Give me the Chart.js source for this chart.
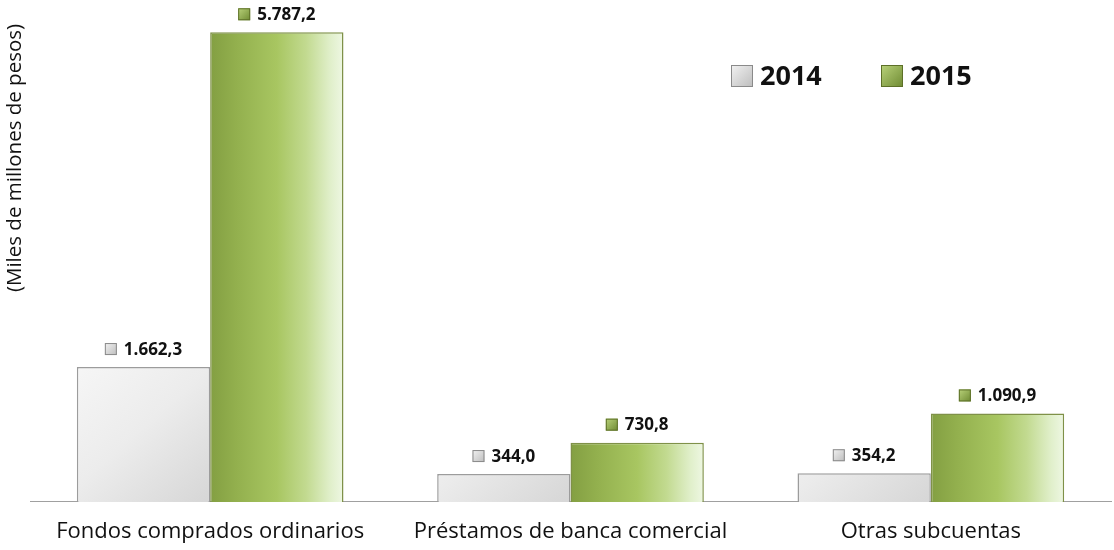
<!DOCTYPE html>
<html><head><meta charset="utf-8">
<script src="https://cdn.jsdelivr.net/npm/chart.js@4"></script>
<style>html,body{margin:0;padding:0;background:#fff}#wrap{width:1114px;height:550px}</style>
</head><body><div id="wrap"><canvas id="c" width="1114" height="550"></canvas></div>
<script>
const categories = ["Fondos comprados ordinarios", "Préstamos de banca comercial", "Otras subcuentas"];
const seriesNames = ["2014", "2015"];
const values2014 = [1662.3, 344.0, 354.2];
const values2015 = [5787.2, 730.8, 1090.9];
const yAxisTitle = "(Miles de millones de pesos)";
const yMax = 6000;

const FONT = "'Open Sans', sans-serif";
const CAT_PCT = 0.74;

function fmt(v){
  const parts = v.toFixed(1).split(".");
  parts[0] = parts[0].replace(/\B(?=(\d{3})+(?!\d))/g, ".");
  return parts[0] + "," + parts[1];
}

function barBounds(chart, dsIndex, idx){
  const xs = chart.scales.x;
  const W = (xs.right - xs.left) / categories.length;
  const c = xs.getPixelForValue(idx);
  const bw = W * CAT_PCT / 2;
  const l = dsIndex === 0 ? c - bw : c;
  return [l, l + bw];
}

function grayGrad(ctx, l, r, t, b){
  const g = ctx.createLinearGradient(l, t, r, b);
  g.addColorStop(0, "#f7f7f7");
  g.addColorStop(0.5, "#ececec");
  g.addColorStop(1, "#d6d6d6");
  return g;
}
function greenGrad(ctx, l, r){
  const g = ctx.createLinearGradient(l, 0, r, 0);
  g.addColorStop(0, "#839f42");
  g.addColorStop(0.2, "#93b04e");
  g.addColorStop(0.5, "#a8c661");
  g.addColorStop(0.72, "#c2da90");
  g.addColorStop(0.9, "#e0efca");
  g.addColorStop(1, "#eef7e3");
  return g;
}

function bgFor(dsIndex){
  return function(context){
    const chart = context.chart;
    if (!chart.chartArea || !chart.scales.x) return dsIndex === 0 ? "#e8e8e8" : "#a8c661";
    const [l, r] = barBounds(chart, dsIndex, context.dataIndex);
    const ca = chart.chartArea;
    return dsIndex === 0 ? grayGrad(chart.ctx, l, r, ca.bottom - 150, ca.bottom) : greenGrad(chart.ctx, l, r);
  };
}

function drawMarker(ctx, x, y, s, ds){
  if (ds === 0){
    const g = ctx.createLinearGradient(x, y, x + s, y + s);
    g.addColorStop(0, "#f2f2f2"); g.addColorStop(1, "#bdbdbd");
    ctx.fillStyle = g;
    ctx.fillRect(x, y, s, s);
    ctx.strokeStyle = "#8a8a8a";
  } else {
    const g = ctx.createLinearGradient(x, y, x + s, y + s);
    g.addColorStop(0, "#b9d27a"); g.addColorStop(1, "#6e8a32");
    ctx.fillStyle = g;
    ctx.fillRect(x, y, s, s);
    ctx.strokeStyle = "#5d7028";
  }
  ctx.lineWidth = 1;
  ctx.strokeRect(x + 0.5, y + 0.5, s - 1, s - 1);
}

const extras = {
  id: "extras",
  afterDatasetsDraw(chart){
    const ctx = chart.ctx;
    ctx.save();
    // value labels
    ctx.font = "bold 17px " + FONT;
    ctx.textBaseline = "middle";
    ctx.textAlign = "left";
    chart.data.datasets.forEach((ds, di) => {
      const meta = chart.getDatasetMeta(di);
      meta.data.forEach((el, i) => {
        const txt = fmt(ds.data[i]);
        const tw = ctx.measureText(txt).width;
        const ms = 12, gap = 7;
        const total = ms + gap + tw;
        const x0 = el.x - total / 2;
        const yc = el.y - 18;
        drawMarker(ctx, x0, yc - ms / 2, ms, di);
        ctx.fillStyle = "#111";
        ctx.fillText(txt, x0 + ms + gap, yc + 1);
      });
    });
    // legend
    ctx.font = "bold 27px " + FONT;
    const legX = [731, 881];
    seriesNames.forEach((n, i) => {
      drawMarker(ctx, legX[i], 65, 22, i);
      ctx.fillStyle = "#111";
      ctx.fillText(n, legX[i] + 29, 77);
    });
    // y-axis title
    ctx.translate(15, 158);
    ctx.rotate(-Math.PI / 2);
    ctx.textAlign = "center";
    ctx.font = "20.5px " + FONT;
    ctx.fillStyle = "#111";
    ctx.fillText(yAxisTitle, 0, 0);
    ctx.restore();
  }
};

new Chart(document.getElementById("c"), {
  type: "bar",
  data: {
    labels: categories,
    datasets: [
      { label: seriesNames[0], data: values2014, backgroundColor: bgFor(0), borderColor: "#9c9c9c", borderWidth: 1.5 },
      { label: seriesNames[1], data: values2015, backgroundColor: bgFor(1), borderColor: "#7f9148", borderWidth: 1.5 }
    ]
  },
  options: {
    responsive: false,
    animation: false,
    layout: { padding: { left: 30, right: 3, top: 15, bottom: -12 } },
    plugins: { legend: { display: false }, tooltip: { enabled: false } },
    datasets: { bar: { categoryPercentage: CAT_PCT, barPercentage: 1 } },
    scales: {
      x: {
        grid: { display: false, drawTicks: false },
        border: { display: true, color: "#a0a0a0", width: 1 },
        ticks: { color: "#111", font: { family: FONT, size: 22, lineHeight: 0.82 }, padding: 21, maxRotation: 0 }
      },
      y: {
        display: false,
        min: 0, max: yMax
      }
    }
  },
  plugins: [extras]
});
</script>
</body></html>
